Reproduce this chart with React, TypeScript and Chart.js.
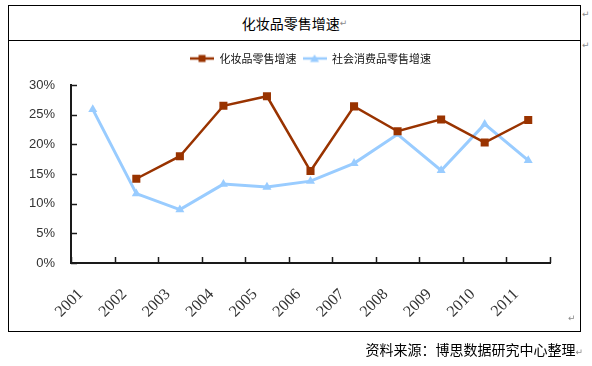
import React, { useEffect, useRef } from "react";
import { Chart, registerables } from "chart.js";

Chart.register(...registerables);

const years = ["2001", "2002", "2003", "2004", "2005", "2006", "2007", "2008", "2009", "2010", "2011"];
const cosmeticsGrowth: (number | null)[] = [null, 14.2, 18.0, 26.5, 28.1, 15.5, 26.4, 22.2, 24.2, 20.3, 24.1];
const retailGrowth: number[] = [25.9, 11.7, 9.0, 13.3, 12.8, 13.8, 16.8, 21.7, 15.6, 23.4, 17.3];
const seriesNames = ["化妆品零售增速", "社会消费品零售增速"];
const yMin = 0;
const yMax = 30;
const yStep = 5;

const RED = "#993300";
const BLUE = "#99CCFF";
const AXIS = "#1a1a1a";
const CJK = '"Noto Sans CJK SC", "Noto Sans", sans-serif';

function makeIcon(color: string, shape: "rect" | "triangle"): HTMLCanvasElement {
  const c = document.createElement("canvas");
  c.width = 24;
  c.height = 10;
  const g = c.getContext("2d")!;
  g.strokeStyle = color;
  g.lineWidth = 2.5;
  g.beginPath();
  g.moveTo(0, 5);
  g.lineTo(24, 5);
  g.stroke();
  g.fillStyle = color;
  if (shape === "rect") {
    g.fillRect(8.5, 1.5, 7, 7);
  } else {
    g.beginPath();
    g.moveTo(12, 1);
    g.lineTo(16.5, 8.5);
    g.lineTo(7.5, 8.5);
    g.closePath();
    g.fill();
  }
  return c;
}

const axisTicks = {
  id: "axisTicks",
  beforeDatasetsDraw(chart: any) {
    const { ctx, scales } = chart;
    const x = scales.x;
    const y = scales.y;
    ctx.save();
    ctx.strokeStyle = AXIS;
    ctx.lineWidth = 1.5;
    const n = chart.data.labels.length;
    for (let i = 0; i <= n; i++) {
      const px = Math.round(x.getPixelForValue(i - 0.5)) + 0.5;
      ctx.beginPath();
      ctx.moveTo(px, y.bottom);
      ctx.lineTo(px, y.bottom - 6);
      ctx.stroke();
    }
    y.ticks.forEach((t: any) => {
      const py = Math.round(y.getPixelForValue(t.value)) + 0.5;
      ctx.beginPath();
      ctx.moveTo(x.left, py);
      ctx.lineTo(x.left + 6, py);
      ctx.stroke();
    });
    ctx.restore();
  },
};

const legendGap = {
  id: "legendGap",
  beforeLayout(chart: any) {
    const lg = chart.legend;
    if (lg && !lg.__patched) {
      const orig = lg.fit;
      lg.fit = function () {
        orig.call(this);
        this.height += 11;
      };
      lg.__patched = true;
    }
  },
};

function LineChart() {
  const ref = useRef<HTMLCanvasElement | null>(null);
  useEffect(() => {
    if (!ref.current) return;
    const icons = [makeIcon(RED, "rect"), makeIcon(BLUE, "triangle")];
    const chart = new Chart(ref.current, {
      type: "line",
      data: {
        labels: years,
        datasets: [
          {
            label: seriesNames[0],
            data: cosmeticsGrowth,
            borderColor: RED,
            backgroundColor: RED,
            borderWidth: 2.5,
            pointStyle: "rect",
            pointRadius: 5.7,
            pointBorderWidth: 0,
            pointBackgroundColor: RED,
            tension: 0,
          },
          {
            label: seriesNames[1],
            data: retailGrowth,
            borderColor: BLUE,
            backgroundColor: BLUE,
            borderWidth: 3,
            pointStyle: "triangle",
            pointRadius: 5.2,
            pointBorderWidth: 0,
            pointBackgroundColor: BLUE,
            tension: 0,
          },
        ],
      },
      options: {
        animation: false,
        responsive: false,
        maintainAspectRatio: false,
        layout: { padding: { top: 6, right: 30, left: 0, bottom: 0 } },
        plugins: {
          tooltip: { enabled: false },
          legend: {
            position: "top",
            fullSize: false,
            labels: {
              usePointStyle: true,
              pointStyleWidth: 24,
              padding: 6,
              color: "#111",
              font: { family: CJK, size: 11 },
              generateLabels: (ch: any) => {
                const items = (Chart.defaults.plugins.legend.labels as any).generateLabels(ch);
                return items.map((it: any, i: number) => ({ ...it, pointStyle: icons[i] }));
              },
            },
          },
        },
        scales: {
          x: {
            type: "category",
            offset: true,
            grid: { display: false, drawTicks: false },
            border: { display: true, color: AXIS, width: 2 },
            ticks: {
              autoSkip: false,
              maxRotation: 45,
              minRotation: 45,
              padding: 22,
              labelOffset: -12,
              color: "#333",
              font: { family: '"Liberation Serif", "Times New Roman", serif', size: 16 },
            },
            afterFit: (s: any) => {
              s.height = 67;
            },
          },
          y: {
            min: yMin,
            max: yMax,
            grid: { display: false, drawTicks: false },
            border: { display: true, color: AXIS, width: 2 },
            ticks: {
              stepSize: yStep,
              padding: 16,
              color: "#333",
              font: { family: '"Liberation Sans", Arial, sans-serif', size: 13 },
              callback: (v: any) => v + "%",
            },
            afterFit: (s: any) => {
              s.width = 62;
            },
          },
        },
      },
      plugins: [axisTicks, legendGap],
    } as any);
    return () => chart.destroy();
  }, []);
  return <canvas ref={ref} width={571} height={289} style={{ display: "block", width: 571, height: 289 }} />;
}

const mark: React.CSSProperties = { color: "#8a8a8a", fontSize: 9, fontFamily: '"DejaVu Sans", sans-serif' };

export default function App() {
  return (
    <div
      style={{
        position: "absolute",
        left: 0,
        top: 0,
        width: 592,
        height: 366,
        background: "#fff",
        overflow: "hidden",
        fontFamily: CJK,
      }}
    >
      <div
        style={{
          position: "absolute",
          left: 8,
          top: 5,
          width: 573,
          height: 327,
          boxSizing: "border-box",
          border: "1px solid #000",
        }}
      />
      <div style={{ position: "absolute", left: 8, top: 40, width: 573, height: 1, background: "#000" }} />
      <div
        style={{
          position: "absolute",
          left: 8,
          top: 5,
          width: 573,
          height: 35,
          display: "flex",
          alignItems: "center",
          justifyContent: "center",
          fontSize: 14,
          color: "#000",
        }}
      >
        <span>化妆品零售增速</span>
        <span style={mark}>↵</span>
      </div>
      <div style={{ position: "absolute", left: 582, top: 9, ...mark }}>↵</div>
      <div style={{ position: "absolute", left: 582, top: 40, ...mark }}>↵</div>
      <div style={{ position: "absolute", left: 9, top: 41, width: 571, height: 289 }}>
        <LineChart />
      </div>
      <div style={{ position: "absolute", left: 568, top: 313, ...mark }}>↵</div>
      <div
        style={{
          position: "absolute",
          left: 300,
          width: 283,
          top: 339,
          textAlign: "right",
          fontSize: 14,
          color: "#000",
          whiteSpace: "nowrap",
        }}
      >
        资料来源：博思数据研究中心整理<span style={mark}>↵</span>
      </div>
    </div>
  );
}
